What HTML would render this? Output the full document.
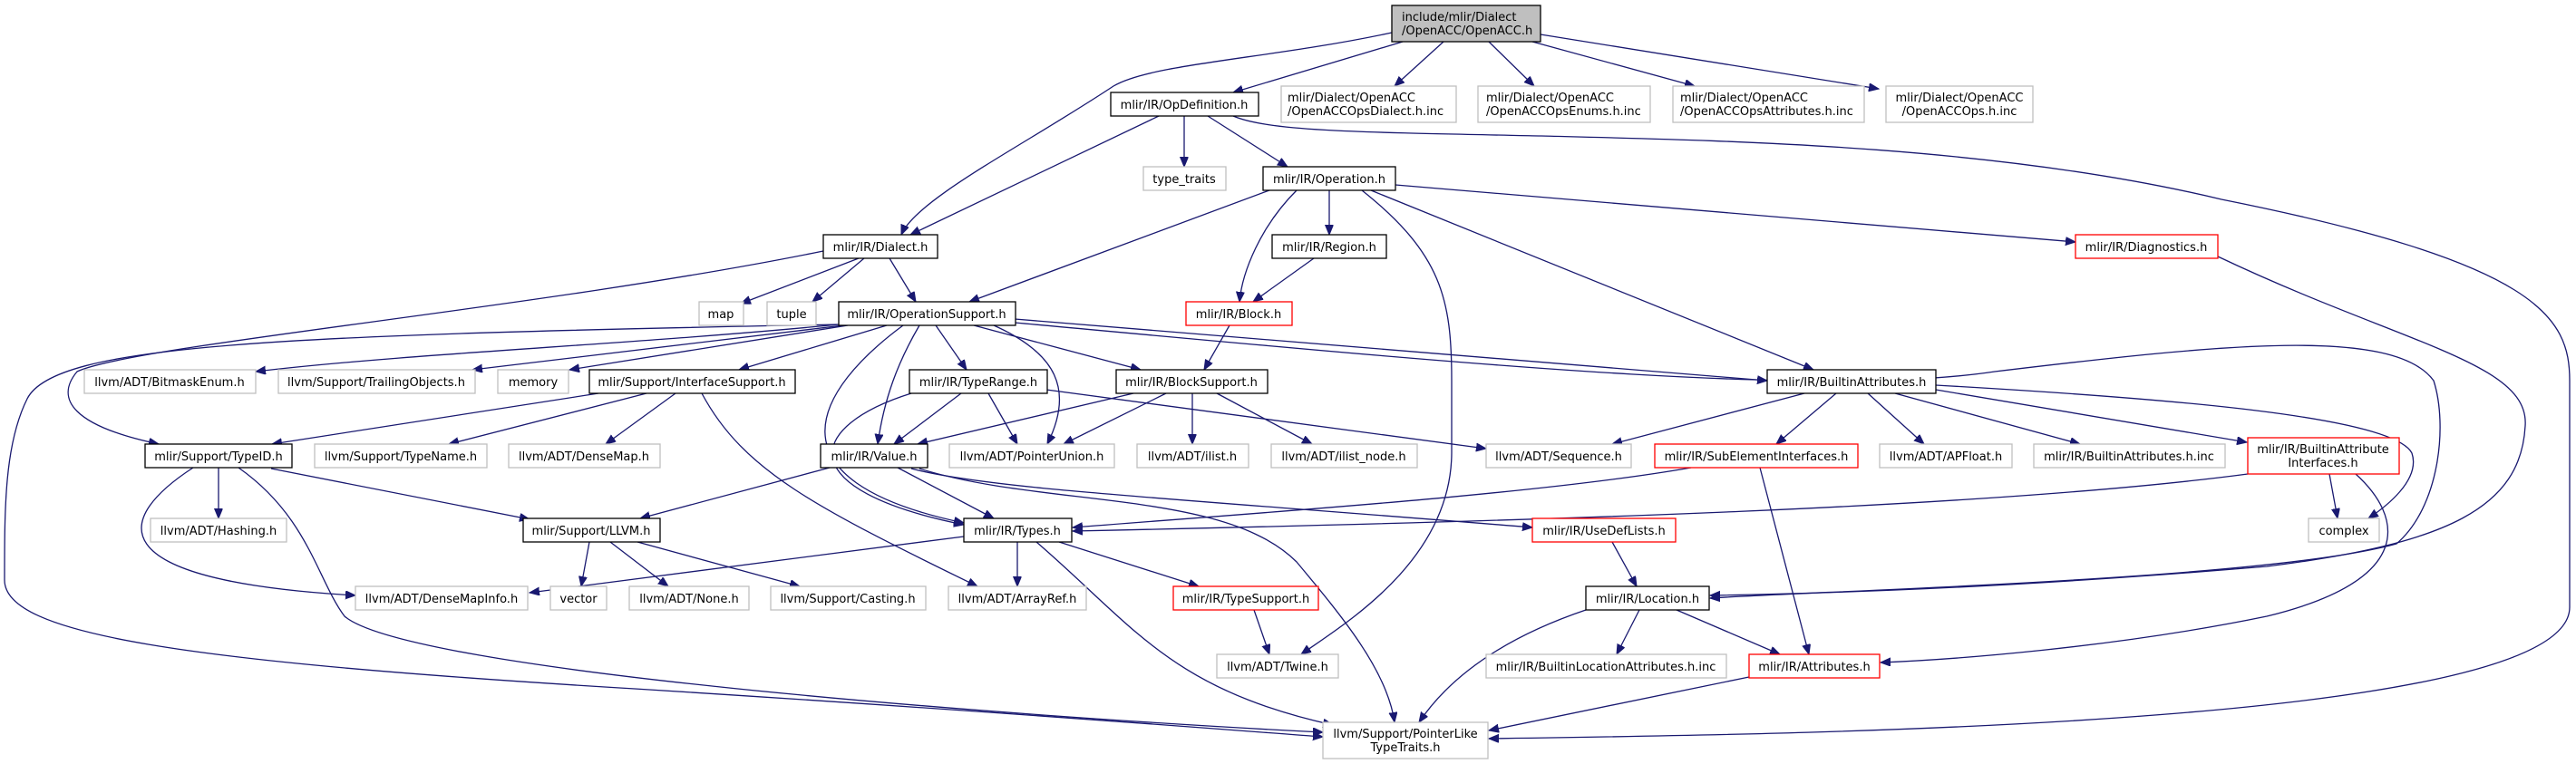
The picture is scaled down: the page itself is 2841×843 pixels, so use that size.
<!DOCTYPE html>
<html><head><meta charset="utf-8"><style>
html,body{margin:0;padding:0;background:#fff;}
svg{display:block;}
text{font-family:"DejaVu Sans","Liberation Sans",sans-serif;font-size:13px;fill:#000;}
.n rect{fill:#fff;stroke-width:1.3;}
.b rect{stroke:#000;}
.g rect{stroke:#bfbfbf;}
.r rect{stroke:#ff0000;}
.e path{fill:none;stroke:#191970;stroke-width:1.3;marker-end:url(#ah);}
</style></head><body>
<svg width="2841" height="843" viewBox="0 0 2841 843" xmlns="http://www.w3.org/2000/svg">
<defs><marker id="ah" markerUnits="userSpaceOnUse" markerWidth="12" markerHeight="10" refX="11" refY="4.5" orient="auto"><path d="M0,0 L11,4.5 L0,9 Z" fill="#191970" stroke="#191970"/></marker></defs>
<g class="e">
<path d="M1547,46 L1360,102"/>
<path d="M1535,36 C1400,65 1270,70 1228,95 C1130,160 1010,220 994,259"/>
<path d="M1592,46 L1538,95"/>
<path d="M1642,46 L1692,95"/>
<path d="M1690,46 L1869,95"/>
<path d="M1699,38 L2072,98"/>
<path d="M1278,128 L1004,259"/>
<path d="M1306,128 L1306,184"/>
<path d="M1332,128 L1420,184"/>
<path d="M1360,128 C1400,145 1500,146 1700,150 C1900,155 2200,160 2450,220 C2800,290 2834,350 2834,420 L2834,670 C2834,800 2000,810 1642,815"/>
<path d="M1400,210 L1069,333"/>
<path d="M1430,210 C1390,250 1370,300 1367,333"/>
<path d="M1466,210 L1466,259"/>
<path d="M1502,210 C1590,280 1601,330 1601,420 L1601,500 C1600,620 1480,690 1435,722"/>
<path d="M1512,210 L2000,408"/>
<path d="M1539,204 L2289,267"/>
<path d="M947,285 L817,335"/>
<path d="M953,285 L896,333"/>
<path d="M981,285 L1010,333"/>
<path d="M908,277 C600,340 150,380 85,410 C60,440 80,470 175,490"/>
<path d="M1449,285 L1382,333"/>
<path d="M2446,283 C2650,380 2790,400 2785,470 C2780,560 2700,600 2500,625 C2200,650 2000,655 1886,657"/>
<path d="M1356,359 L1328,408"/>
<path d="M925,358 C700,380 450,390 282,410"/>
<path d="M930,359 L521,408"/>
<path d="M935,359 L628,408"/>
<path d="M978,359 L815,408"/>
<path d="M1032,359 L1066,408"/>
<path d="M1074,359 L1258,408"/>
<path d="M1014,359 C990,400 975,440 968,490"/>
<path d="M996,359 C900,430 840,530 1063,577"/>
<path d="M1096,359 C1165,390 1185,430 1155,490"/>
<path d="M1119,352 L1949,420"/>
<path d="M1119,356 C1600,400 2000,440 2200,410 C2450,380 2640,360 2684,420 C2700,470 2690,560 2643,600 C2500,640 2000,652 1886,660"/>
<path d="M2135,425 C2400,440 2640,460 2660,500 C2670,530 2630,560 2612,572"/>
<path d="M924,358 C300,370 60,380 30,440 C5,490 5,560 5,640 C5,700 200,730 700,760 C1100,785 1350,805 1459,813"/>
<path d="M660,434 L300,490"/>
<path d="M713,434 L495,490"/>
<path d="M745,434 L668,490"/>
<path d="M774,434 C820,520 900,560 1078,647"/>
<path d="M1060,434 L986,490"/>
<path d="M1090,434 L1122,490"/>
<path d="M1005,434 C890,470 870,540 1063,579"/>
<path d="M1154,430 L1639,495"/>
<path d="M1250,434 L1012,490"/>
<path d="M1286,434 L1173,490"/>
<path d="M1315,434 L1315,490"/>
<path d="M1342,434 L1447,490"/>
<path d="M1990,434 L1778,490"/>
<path d="M2025,434 L1959,490"/>
<path d="M2060,434 L2122,490"/>
<path d="M2090,434 L2294,490"/>
<path d="M2135,430 L2478,488"/>
<path d="M1865,516 C1700,545 1400,565 1183,582"/>
<path d="M1941,516 L1995,722"/>
<path d="M2479,523 C2200,560 1700,575 1183,586"/>
<path d="M2569,523 L2578,572"/>
<path d="M2598,523 C2650,570 2665,640 2500,680 C2330,715 2150,728 2074,731"/>
<path d="M915,516 L706,572"/>
<path d="M990,516 L1096,572"/>
<path d="M1005,517 C1090,540 1300,550 1690,582"/>
<path d="M1014,517 C1150,560 1350,540 1430,620 C1480,680 1530,740 1538,797"/>
<path d="M241,516 L241,572"/>
<path d="M299,517 L584,573"/>
<path d="M213,516 C130,570 100,640 392,657"/>
<path d="M263,516 C340,570 350,640 380,680 C450,740 1100,790 1459,808"/>
<path d="M650,598 L641,647"/>
<path d="M673,598 L737,647"/>
<path d="M703,598 L882,647"/>
<path d="M1063,592 L584,654"/>
<path d="M1122,598 L1122,647"/>
<path d="M1168,598 L1322,647"/>
<path d="M1143,598 C1250,690 1290,760 1470,800"/>
<path d="M1383,673 L1400,722"/>
<path d="M1778,598 L1805,647"/>
<path d="M1749,673 C1640,710 1590,760 1565,797"/>
<path d="M1808,673 L1783,722"/>
<path d="M1849,673 L1963,722"/>
<path d="M1929,747 L1642,806"/>
</g>
<g class="n b"><rect x="1535" y="6" width="164" height="40" style="fill:#bfbfbf"/><text x="1546" y="23">include/mlir/Dialect</text><text x="1546" y="38">/OpenACC/OpenACC.h</text></g>
<g class="n g"><rect x="1413" y="95" width="193" height="40"/><text x="1420" y="112">mlir/Dialect/OpenACC</text><text x="1420" y="127">/OpenACCOpsDialect.h.inc</text></g>
<g class="n g"><rect x="1630" y="95" width="190" height="40"/><text x="1639" y="112">mlir/Dialect/OpenACC</text><text x="1639" y="127">/OpenACCOpsEnums.h.inc</text></g>
<g class="n g"><rect x="1845" y="95" width="211" height="40"/><text x="1853" y="112">mlir/Dialect/OpenACC</text><text x="1853" y="127">/OpenACCOpsAttributes.h.inc</text></g>
<g class="n g"><rect x="2080" y="95" width="162" height="40"/><text x="2161" y="112" text-anchor="middle">mlir/Dialect/OpenACC</text><text x="2161" y="127" text-anchor="middle">/OpenACCOps.h.inc</text></g>
<g class="n b"><rect x="1225" y="102" width="163" height="26"/><text x="1306" y="120" text-anchor="middle">mlir/IR/OpDefinition.h</text></g>
<g class="n g"><rect x="1261" y="184" width="91" height="26"/><text x="1306" y="202" text-anchor="middle">type_traits</text></g>
<g class="n b"><rect x="1393" y="184" width="146" height="26"/><text x="1466" y="202" text-anchor="middle">mlir/IR/Operation.h</text></g>
<g class="n b"><rect x="908" y="259" width="126" height="26"/><text x="971" y="277" text-anchor="middle">mlir/IR/Dialect.h</text></g>
<g class="n b"><rect x="1403" y="259" width="126" height="26"/><text x="1466" y="277" text-anchor="middle">mlir/IR/Region.h</text></g>
<g class="n r"><rect x="2289" y="259" width="157" height="26"/><text x="2367" y="277" text-anchor="middle">mlir/IR/Diagnostics.h</text></g>
<g class="n g"><rect x="771" y="333" width="49" height="26"/><text x="795" y="351" text-anchor="middle">map</text></g>
<g class="n g"><rect x="846" y="333" width="54" height="26"/><text x="873" y="351" text-anchor="middle">tuple</text></g>
<g class="n b"><rect x="925" y="333" width="195" height="26"/><text x="1022" y="351" text-anchor="middle">mlir/IR/OperationSupport.h</text></g>
<g class="n r"><rect x="1308" y="333" width="117" height="26"/><text x="1366" y="351" text-anchor="middle">mlir/IR/Block.h</text></g>
<g class="n g"><rect x="93" y="408" width="189" height="26"/><text x="187" y="426" text-anchor="middle">llvm/ADT/BitmaskEnum.h</text></g>
<g class="n g"><rect x="307" y="408" width="217" height="26"/><text x="415" y="426" text-anchor="middle">llvm/Support/TrailingObjects.h</text></g>
<g class="n g"><rect x="549" y="408" width="78" height="26"/><text x="588" y="426" text-anchor="middle">memory</text></g>
<g class="n b"><rect x="650" y="408" width="227" height="26"/><text x="763" y="426" text-anchor="middle">mlir/Support/InterfaceSupport.h</text></g>
<g class="n b"><rect x="1003" y="408" width="152" height="26"/><text x="1079" y="426" text-anchor="middle">mlir/IR/TypeRange.h</text></g>
<g class="n b"><rect x="1231" y="408" width="167" height="26"/><text x="1314" y="426" text-anchor="middle">mlir/IR/BlockSupport.h</text></g>
<g class="n b"><rect x="1949" y="408" width="186" height="26"/><text x="2042" y="426" text-anchor="middle">mlir/IR/BuiltinAttributes.h</text></g>
<g class="n b"><rect x="160" y="490" width="162" height="26"/><text x="241" y="508" text-anchor="middle">mlir/Support/TypeID.h</text></g>
<g class="n g"><rect x="347" y="490" width="190" height="26"/><text x="442" y="508" text-anchor="middle">llvm/Support/TypeName.h</text></g>
<g class="n g"><rect x="561" y="490" width="167" height="26"/><text x="644" y="508" text-anchor="middle">llvm/ADT/DenseMap.h</text></g>
<g class="n b"><rect x="905" y="490" width="118" height="26"/><text x="964" y="508" text-anchor="middle">mlir/IR/Value.h</text></g>
<g class="n g"><rect x="1047" y="490" width="182" height="26"/><text x="1138" y="508" text-anchor="middle">llvm/ADT/PointerUnion.h</text></g>
<g class="n g"><rect x="1254" y="490" width="123" height="26"/><text x="1315" y="508" text-anchor="middle">llvm/ADT/ilist.h</text></g>
<g class="n g"><rect x="1402" y="490" width="161" height="26"/><text x="1482" y="508" text-anchor="middle">llvm/ADT/ilist_node.h</text></g>
<g class="n g"><rect x="1639" y="490" width="160" height="26"/><text x="1719" y="508" text-anchor="middle">llvm/ADT/Sequence.h</text></g>
<g class="n r"><rect x="1825" y="490" width="224" height="26"/><text x="1937" y="508" text-anchor="middle">mlir/IR/SubElementInterfaces.h</text></g>
<g class="n g"><rect x="2073" y="490" width="146" height="26"/><text x="2146" y="508" text-anchor="middle">llvm/ADT/APFloat.h</text></g>
<g class="n g"><rect x="2243" y="490" width="211" height="26"/><text x="2348" y="508" text-anchor="middle">mlir/IR/BuiltinAttributes.h.inc</text></g>
<g class="n r"><rect x="2479" y="483" width="167" height="40"/><text x="2562" y="500" text-anchor="middle">mlir/IR/BuiltinAttribute</text><text x="2562" y="515" text-anchor="middle">Interfaces.h</text></g>
<g class="n g"><rect x="166" y="572" width="150" height="26"/><text x="241" y="590" text-anchor="middle">llvm/ADT/Hashing.h</text></g>
<g class="n b"><rect x="577" y="572" width="151" height="26"/><text x="652" y="590" text-anchor="middle">mlir/Support/LLVM.h</text></g>
<g class="n b"><rect x="1063" y="572" width="119" height="26"/><text x="1122" y="590" text-anchor="middle">mlir/IR/Types.h</text></g>
<g class="n r"><rect x="1690" y="572" width="158" height="26"/><text x="1769" y="590" text-anchor="middle">mlir/IR/UseDefLists.h</text></g>
<g class="n g"><rect x="2546" y="572" width="78" height="26"/><text x="2585" y="590" text-anchor="middle">complex</text></g>
<g class="n g"><rect x="392" y="647" width="190" height="26"/><text x="487" y="665" text-anchor="middle">llvm/ADT/DenseMapInfo.h</text></g>
<g class="n g"><rect x="607" y="647" width="62" height="26"/><text x="638" y="665" text-anchor="middle">vector</text></g>
<g class="n g"><rect x="694" y="647" width="132" height="26"/><text x="760" y="665" text-anchor="middle">llvm/ADT/None.h</text></g>
<g class="n g"><rect x="850" y="647" width="171" height="26"/><text x="935" y="665" text-anchor="middle">llvm/Support/Casting.h</text></g>
<g class="n g"><rect x="1046" y="647" width="152" height="26"/><text x="1122" y="665" text-anchor="middle">llvm/ADT/ArrayRef.h</text></g>
<g class="n r"><rect x="1294" y="647" width="160" height="26"/><text x="1374" y="665" text-anchor="middle">mlir/IR/TypeSupport.h</text></g>
<g class="n b"><rect x="1749" y="647" width="136" height="26"/><text x="1817" y="665" text-anchor="middle">mlir/IR/Location.h</text></g>
<g class="n g"><rect x="1342" y="722" width="134" height="26"/><text x="1409" y="740" text-anchor="middle">llvm/ADT/Twine.h</text></g>
<g class="n g"><rect x="1639" y="722" width="265" height="26"/><text x="1771" y="740" text-anchor="middle">mlir/IR/BuiltinLocationAttributes.h.inc</text></g>
<g class="n r"><rect x="1929" y="722" width="144" height="26"/><text x="2001" y="740" text-anchor="middle">mlir/IR/Attributes.h</text></g>
<g class="n g"><rect x="1459" y="797" width="182" height="40"/><text x="1550" y="814" text-anchor="middle">llvm/Support/PointerLike</text><text x="1550" y="829" text-anchor="middle">TypeTraits.h</text></g>
</svg>
</body></html>
